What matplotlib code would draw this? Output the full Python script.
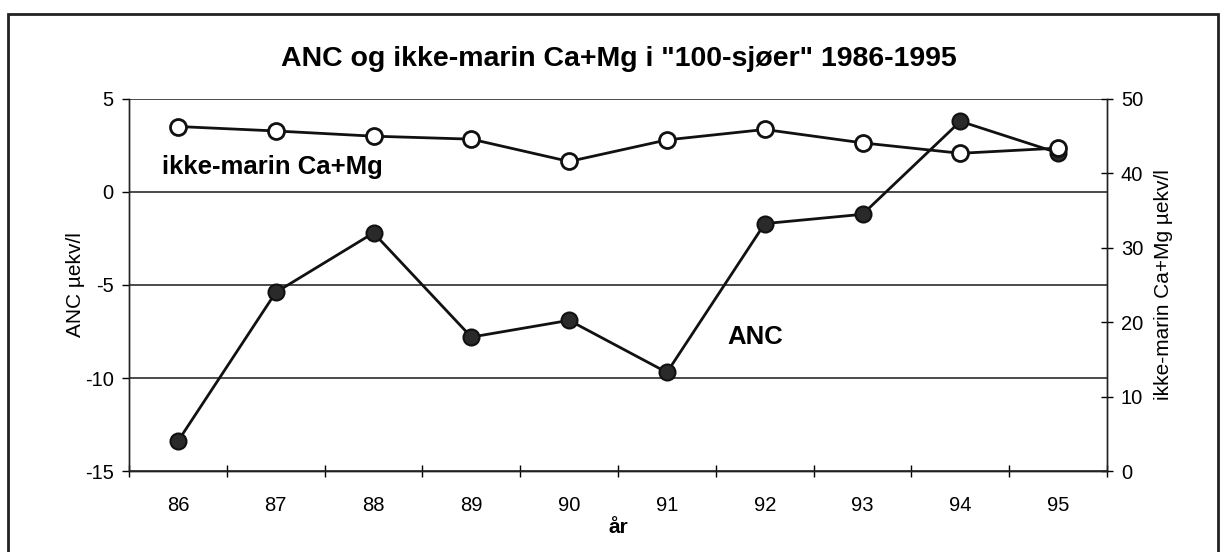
import matplotlib.pyplot as plt
from matplotlib.patches import Rectangle
from matplotlib.ticker import FixedLocator

plt.rcParams['font.family'] = ['Liberation Sans', 'DejaVu Sans']
plt.rcParams['axes.unicode_minus'] = False

# data
years = ["86", "87", "88", "89", "90", "91", "92", "93", "94", "95"]
anc = [-13.4, -5.4, -2.2, -7.8, -6.9, -9.7, -1.7, -1.2, 3.8, 2.1]
camg = [46.3, 45.7, 45.0, 44.6, 41.6, 44.5, 45.9, 44.1, 42.7, 43.4]

x = list(range(len(years)))

fig = plt.figure(figsize=(12.23, 5.52), dpi=100)
ax = fig.add_axes([0.1055, 0.1467, 0.7997, 0.674])
ax2 = ax.twinx()

# ANC on left axis, filled dots
ax.plot(x, anc, color="#111111", lw=2, marker="o", ms=11.5,
        markerfacecolor="#2a2a2a", markeredgecolor="#111111", mew=1.5, zorder=3)
# Ca+Mg on right axis, open circles
ax2.plot(x, camg, color="#111111", lw=2, marker="o", ms=11.5,
         markerfacecolor="white", markeredgecolor="#111111", mew=2, zorder=3)

ax.set_xlim(-0.5, len(years) - 0.5)
ax.set_ylim(-15, 5)
ax2.set_ylim(0, 50)
ax.set_yticks([-15, -10, -5, 0, 5])
ax2.set_yticks([0, 10, 20, 30, 40, 50])

# year labels in the middle, tick marks on the boundaries
ax.set_xticks(x)
ax.set_xticklabels(years)
ax.xaxis.set_minor_locator(FixedLocator([i + 0.5 for i in range(-1, len(years))]))
ax.tick_params(axis="x", which="major", length=0, pad=18, labelsize=14.5)
ax.tick_params(axis="x", which="minor", direction="inout", length=9, width=1)
ax.tick_params(axis="y", direction="out", length=5, width=1, pad=6, labelsize=14.5)
ax2.tick_params(axis="y", direction="inout", length=8, width=1, pad=6, labelsize=14.5)

ax.grid(axis="y", color="#1a1a1a", lw=1.1)
ax.set_axisbelow(True)
for a in (ax, ax2):
    for s in a.spines.values():
        s.set_linewidth(1)
        s.set_color("#222222")
ax2.spines["top"].set_visible(False)
ax.spines["top"].set_visible(False)

ax.set_ylabel("ANC µekv/l", fontsize=15, labelpad=0)
ax2.set_ylabel("ikke-marin Ca+Mg µekv/l", fontsize=15, labelpad=8)
ax.set_xlabel("år", fontsize=15, fontweight="bold", labelpad=2)

ax.text(0.034, 0.817, "ikke-marin Ca+Mg", transform=ax.transAxes,
        fontsize=18.5, fontweight="bold", va="center", ha="left")
ax.text(0.612, 0.36, "ANC", transform=ax.transAxes,
        fontsize=18.5, fontweight="bold", va="center", ha="left")

fig.text(0.506, 0.893, 'ANC og ikke-marin Ca+Mg i "100-sjøer" 1986-1995',
         fontsize=20.5, fontweight="bold", ha="center", va="center")

# frame around the whole chart
fig.add_artist(Rectangle((8 / 1223, -0.05), (1218 - 8) / 1223, 1.05 - 14 / 552,
                         transform=fig.transFigure, fill=False, lw=2,
                         edgecolor="#222222", clip_on=False))

fig.savefig("out.png", dpi=100)
